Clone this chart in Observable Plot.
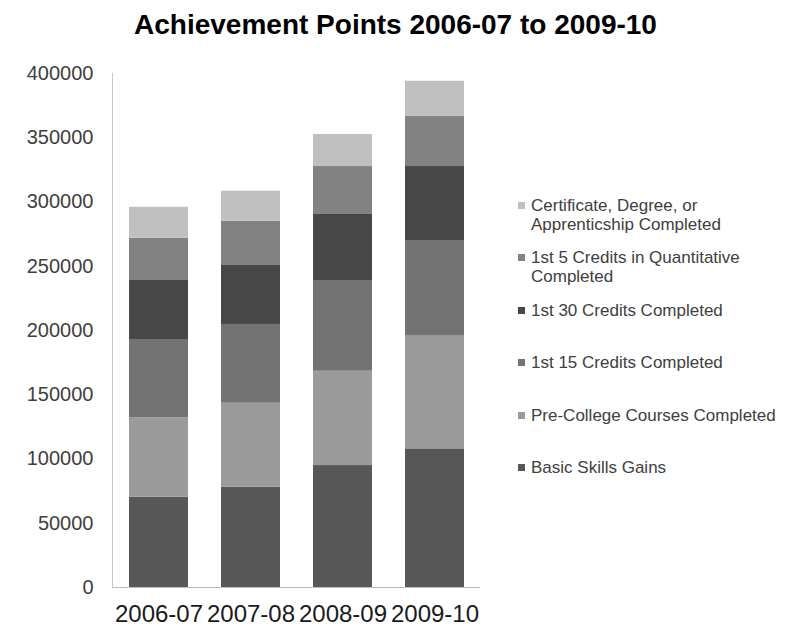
<!DOCTYPE html>
<html>
<head>
<meta charset="utf-8">
<script src="https://cdn.jsdelivr.net/npm/d3@7"></script>
<script src="https://cdn.jsdelivr.net/npm/@observablehq/plot@0.6"></script>
<style>
  html, body { margin: 0; padding: 0; background: #fff; }
  body { position: relative; width: 791px; height: 626px; overflow: hidden; font-family: "Liberation Sans", Arial, sans-serif; }
  #title { position: absolute; top: 11px; left: 0; width: 791px; text-align: center; font-weight: bold; font-size: 28px; line-height: 28px; color: #000; }
  #chart { position: absolute; top: 50px; left: 0; }
  #legend { position: absolute; left: 518px; top: 195.5px; font-size: 17px; line-height: 19px; color: #404040; }
  #legend .item { display: flex; align-items: flex-start; height: 52.5px; }
  #legend .sw { width: 7px; height: 7px; margin-top: 6px; margin-right: 6px; flex: none; }
  #legend .lb { width: 255px; }
  #chart svg text { font-family: "Liberation Sans", Arial, sans-serif; }
</style>
</head>
<body>
<div id="title">Achievement Points 2006-07 to 2009-10</div>
<div id="chart"></div>
<div id="legend"></div>
<script>
const years = ["2006-07", "2007-08", "2008-09", "2009-10"];
const seriesNames = [
  "Basic Skills Gains",
  "Pre-College Courses Completed",
  "1st 15 Credits Completed",
  "1st 30 Credits Completed",
  "1st 5 Credits in Quantitative Completed",
  "Certificate, Degree, or Apprenticship Completed"
];
const basicSkills   = [70300, 78100, 94900, 107900];
const preCollege    = [61800, 65300, 73400, 87700];
const credits15     = [60900, 61300, 70600, 74400];
const credits30     = [45900, 45900, 51400, 57600];
const quantitative  = [32900, 34500, 37300, 38900];
const certificate   = [24100, 23300, 24900, 27500];
const seriesColors  = ["#575757", "#9b9b9b", "#737373", "#474747", "#828282", "#c0c0c0"];
const yTicks = [0, 50000, 100000, 150000, 200000, 250000, 300000, 350000, 400000];

const seriesValues = [basicSkills, preCollege, credits15, credits30, quantitative, certificate];
const rows = [];
seriesNames.forEach((s, i) => {
  years.forEach((y, j) => rows.push({year: y, series: s, value: seriesValues[i][j]}));
});

const chart = Plot.plot({
  width: 500,
  height: 576,
  marginTop: 23,
  marginBottom: 39,
  marginLeft: 112,
  marginRight: 20,
  style: {background: "transparent"},
  x: {domain: years, paddingInner: 0.36, paddingOuter: 0.18, label: null},
  y: {domain: [0, 400000], label: null},
  color: {domain: seriesNames, range: seriesColors},
  marks: [
    Plot.frame({anchor: "left", stroke: "#c8c8c8"}),
    Plot.barY(rows, Plot.stackY({x: "year", y: "value", z: "series", fill: "series", order: seriesNames})),
    Plot.ruleY([0], {stroke: "#bdbdbd"}),
    Plot.axisY({ticks: yTicks, tickSize: 0, tickPadding: 19, tickFormat: d3.format("d"), fontSize: 20, fill: "#404040", style: "letter-spacing:2px", label: null}),
    Plot.axisX({tickSize: 0, tickPadding: 17, fontSize: 24, fill: "#1a1a1a", label: null})
  ]
});
document.getElementById("chart").appendChild(chart);

const legend = document.getElementById("legend");
seriesNames.slice().reverse().forEach((s) => {
  const i = seriesNames.indexOf(s);
  const item = document.createElement("div");
  item.className = "item";
  const sw = document.createElement("div");
  sw.className = "sw";
  sw.style.background = seriesColors[i];
  const lb = document.createElement("div");
  lb.className = "lb";
  lb.textContent = s;
  item.appendChild(sw);
  item.appendChild(lb);
  legend.appendChild(item);
});
</script>
</body>
</html>
